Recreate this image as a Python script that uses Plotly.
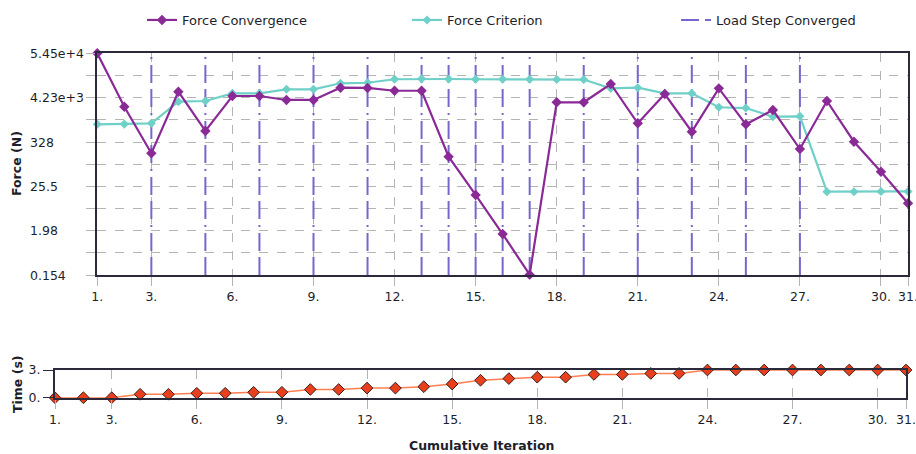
import numpy as np
import plotly.graph_objects as go

iterations = list(range(1, 32))
force_convergence = [54500, 2500, 171, 5960, 620, 4650, 4650, 3700, 3700, 7500, 7400,
                     6300, 6300, 141, 15.5, 1.63, 0.157, 3240, 3240, 9300, 964, 5220,
                     595, 7240, 910, 2075, 219, 3490, 334, 59.3, 9.6]
force_criterion = [910, 920, 964, 3350, 3490, 5430, 5430, 6840, 6840, 9680, 9990,
                   12200, 12500, 12400, 12200, 12200, 12200, 12000, 12000, 7240, 7500,
                   5430, 5430, 2430, 2320, 1413, 1440, 18.7, 18.7, 19, 19]
load_steps = [3, 5, 7, 9, 11, 13, 14, 15, 16, 17, 19, 21, 23, 25, 27]
time_values = [0, 0, 0, 0.37, 0.37, 0.48, 0.48, 0.59, 0.59, 0.89, 0.89, 1.04, 1.04,
               1.19, 1.48, 1.89, 2.07, 2.22, 2.22, 2.52, 2.52, 2.63, 2.63, 3, 3, 3, 3,
               3, 3, 3, 3]
x_tickvals = [1, 3, 6, 9, 12, 15, 18, 21, 24, 27, 30, 31]
x_ticktext = ["1.", "3.", "6.", "9.", "12.", "15.", "18.", "21.", "24.", "27.", "30.", "31."]
force_tickvals = [0.154, 1.98, 25.5, 328, 4230, 54500]
force_ticktext = ["0.154", "1.98", "25.5", "328", "4.23e+3", "5.45e+4"]
time_tickvals = [0, 3]
time_ticktext = ["0.", "3."]

W, H = 916, 454
FONT = "DejaVu Sans"
TXT = "#1e1e2a"
FRAME = "#2a2a3a"
GRID = "#b4b4b4"
FS = 12.5

ymin, ymax = force_tickvals[0], force_tickvals[-1]
grid_vals = []
for i, v in enumerate(force_tickvals):
    grid_vals.append(v)
    if i < len(force_tickvals) - 1:
        grid_vals.append(np.sqrt(v * force_tickvals[i + 1]))

fig = go.Figure()

ls_x, ls_y = [], []
for s in load_steps:
    ls_x += [s, s, None]
    ls_y += [ymin, ymax, None]
fig.add_trace(go.Scatter(x=ls_x, y=ls_y, mode="lines", name="Load Step Converged",
                         line=dict(color="#7468cc", width=2, dash="18px,6px,18px,6px,2px,6px"),
                         xaxis="x", yaxis="y", legend="legend3", hoverinfo="skip"))
fig.add_trace(go.Scatter(x=iterations, y=force_criterion, mode="lines+markers",
                         name="Force Criterion", line=dict(color="#6fd0c8", width=2.2),
                         marker=dict(symbol="diamond", size=7, color="#6fd0c8"),
                         xaxis="x", yaxis="y", legend="legend2", cliponaxis=False))
fig.add_trace(go.Scatter(x=iterations, y=force_convergence, mode="lines+markers",
                         name="Force Convergence", line=dict(color="#8a2a96", width=2.2),
                         marker=dict(symbol="diamond", size=8, color="#8a2a96"),
                         xaxis="x", yaxis="y", legend="legend", cliponaxis=False))
fig.add_trace(go.Scatter(x=iterations, y=time_values, mode="lines+markers",
                         name="Time", showlegend=False,
                         line=dict(color="#ff7f50", width=1.5),
                         marker=dict(symbol="diamond", size=9, color="#e8401c",
                                     line=dict(color="#3a1a1a", width=1)),
                         xaxis="x2", yaxis="y2", cliponaxis=False))

ax_common = dict(showline=True, linecolor=FRAME, linewidth=2, mirror=True,
                 zeroline=False, automargin=False)

def leg(xpx):
    return dict(orientation="h", x=xpx / W, y=1 - 20 / H, xanchor="left",
                yanchor="middle", font=dict(size=13, color=TXT),
                bgcolor="rgba(0,0,0,0)")

fig.update_layout(
    width=W, height=H,
    margin=dict(l=0, r=0, t=0, b=0, autoexpand=False),
    paper_bgcolor="white", plot_bgcolor="white",
    font=dict(family=FONT, size=FS, color=TXT),
    showlegend=True,
    legend=leg(142), legend2=leg(407), legend3=leg(676),
    xaxis=dict(domain=[97.3 / W, 908 / W], range=[1, 31], anchor="y",
               tickvals=x_tickvals, ticktext=x_ticktext, ticklabeloverflow="allow",
               showgrid=True, gridcolor=GRID, griddash="dash", gridwidth=1,
               ticks="outside", ticklen=9, tickcolor=GRID, **ax_common),
    yaxis=dict(domain=[1 - 275 / H, 1 - 53.3 / H], type="log",
               range=[np.log10(ymin), np.log10(ymax)], anchor="x",
               tickvals=grid_vals, showticklabels=False,
               showgrid=True, gridcolor=GRID, griddash="dash", gridwidth=1,
               ticks="outside", ticklen=9, tickcolor=GRID, **ax_common),
    xaxis2=dict(domain=[55 / W, 906 / W], range=[1, 31], anchor="y2",
                tickvals=x_tickvals, ticktext=x_ticktext, ticklabeloverflow="allow",
                showgrid=True, gridcolor=GRID, griddash="dash", gridwidth=1,
                ticks="outside", ticklen=9, tickcolor=GRID, **ax_common),
    yaxis2=dict(domain=[1 - 397.7 / H, 1 - 370 / H], range=[0, 3], anchor="x2",
                tickvals=time_tickvals, ticktext=time_ticktext,
                showgrid=False, ticks="outside", ticklen=10, tickcolor=FRAME,
                **ax_common),
)

annotations = []
for v, t in zip(force_tickvals, force_ticktext):
    annotations.append(dict(x=28 / W, xref="paper", y=np.log10(v), yref="y",
                            text=t, showarrow=False, xanchor="left", yanchor="middle",
                            font=dict(size=FS, color=TXT)))
annotations.append(dict(x=17 / W, xref="paper", y=1 - 164 / H, yref="paper",
                        text="<b>Force (N)</b>", textangle=-90, showarrow=False,
                        xanchor="center", yanchor="middle",
                        font=dict(size=FS, color=TXT)))
annotations.append(dict(x=17 / W, xref="paper", y=1 - 384 / H, yref="paper",
                        text="<b>Time (s)</b>", textangle=-90, showarrow=False,
                        xanchor="center", yanchor="middle",
                        font=dict(size=FS, color=TXT)))
annotations.append(dict(x=482 / W, xref="paper", y=1 - 445 / H, yref="paper",
                        text="<b>Cumulative Iteration</b>", showarrow=False,
                        xanchor="center", yanchor="middle",
                        font=dict(size=FS, color=TXT)))
fig.update_layout(annotations=annotations)

fig.write_html("out.html", config={"displayModeBar": False},
               post_script="document.body.style.margin='0';document.body.style.overflow='hidden';")
